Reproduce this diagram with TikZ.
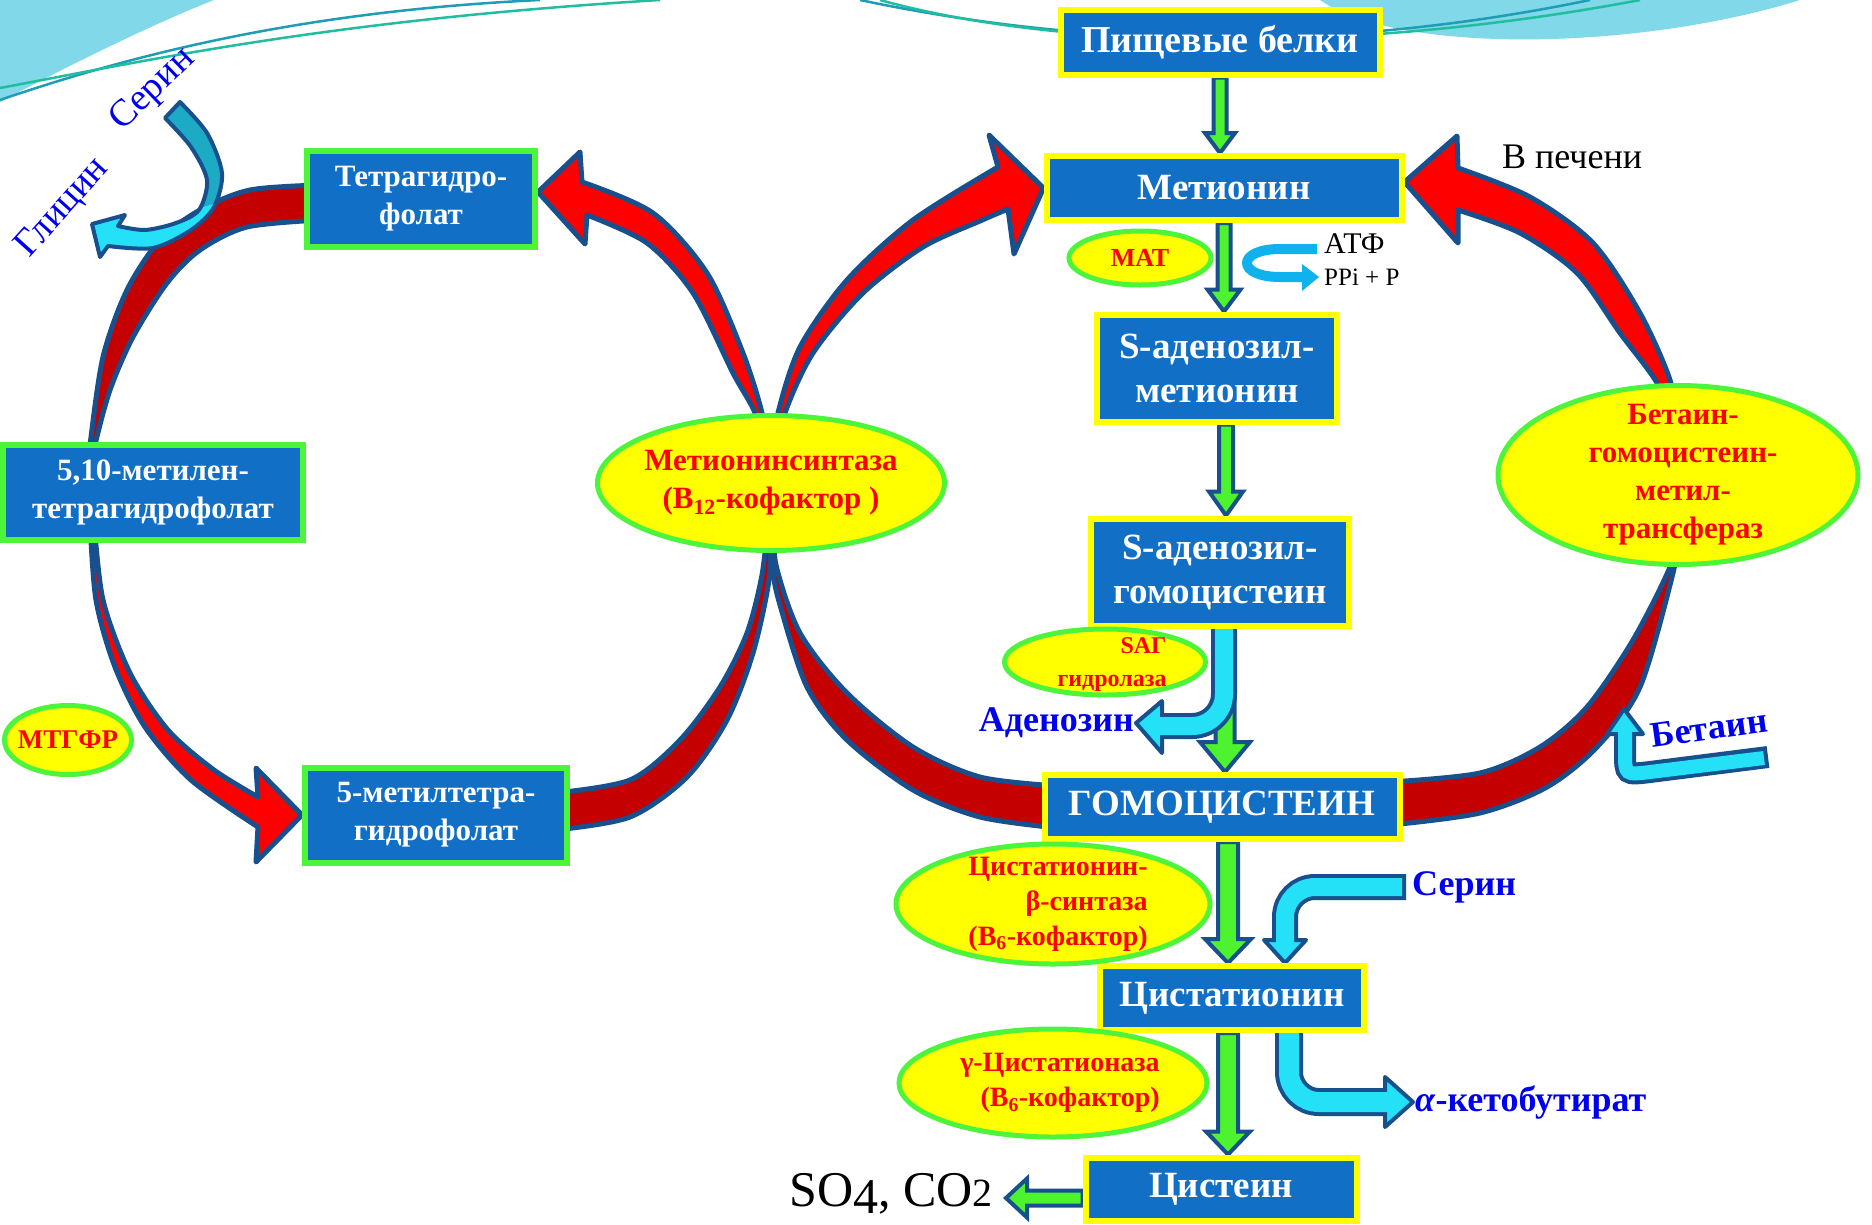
\documentclass[tikz,border=0pt]{standalone}
\usepackage{fontspec}
\setmainfont{Liberation Serif}
\usetikzlibrary{shapes.geometric,calc,backgrounds}

\definecolor{boxblue}{HTML}{1170C6}
\definecolor{frameyellow}{HTML}{FFFF00}
\definecolor{framegreen}{HTML}{4CF53A}
\definecolor{enzfill}{HTML}{FFFF00}
\definecolor{outlineblue}{HTML}{17508C}
\definecolor{brightred}{HTML}{FF0000}
\definecolor{darkred}{HTML}{C40000}
\definecolor{arrowgreen}{HTML}{4CF32E}
\definecolor{cyanlight}{HTML}{24E1F8}
\definecolor{cyandark}{HTML}{1DAAC4}
\definecolor{atpcyan}{HTML}{10B2EE}
\definecolor{labelblue}{HTML}{0000F0}
\definecolor{decorcyan}{HTML}{80D8E8}
\definecolor{decorteal}{HTML}{1F9CB6}
\definecolor{decorgreen}{HTML}{20BE9E}

\tikzset{
  box/.style={draw=frameyellow, line width=6pt, fill=boxblue, text=white, align=center,
    inner sep=0pt, font=\bfseries\fontsize{37}{44}\selectfont},
  folbox/.style={box, draw=framegreen, font=\bfseries\fontsize{31}{38}\selectfont},
  enzyme/.style={ellipse, draw=framegreen, line width=5pt, fill=enzfill, inner sep=0pt},
  enztext/.style={draw=none, fill=none, text=brightred, align=center, inner sep=0pt,
    font=\bfseries\fontsize{31}{38}\selectfont},
  bluelabel/.style={text=labelblue, inner sep=2pt, font=\bfseries\fontsize{36}{40}\selectfont},
  glylabel/.style={text=labelblue, inner sep=0pt, font=\fontsize{38}{40}\selectfont},
  redband/.style={draw=outlineblue, line width=5pt, line join=round},
  greenarrow/.style={draw=outlineblue, line width=4pt, fill=arrowgreen, line join=miter},
  cyanhead/.style={draw=outlineblue, line width=4pt, fill=cyanlight, line join=round},
}

% block arrow: start, end, shaft half width, head half width, head length
\newcommand\blockarrow[5]{%
  \path let \p1=($(#2)-(#1)$) in \pgfextra{%
    \pgfmathsetmacro\baang{atan2(\y1,\x1)}\global\let\baang\baang
    \pgfmathsetmacro\balen{veclen(\x1,\y1)}\global\let\balen\balen};
  \begin{scope}[shift={(#1)}, rotate=\baang, x=1pt, y=1pt]
    \filldraw[greenarrow] (0,#3) -- ({\balen-#5},#3) -- ({\balen-#5},#4) -- (\balen,0)
      -- ({\balen-#5},-#4) -- ({\balen-#5},-#3) -- (0,-#3) -- cycle;
  \end{scope}}

\begin{document}
\begin{tikzpicture}[x=1pt, y=-1pt]
\useasboundingbox (0,0) rectangle (1872,1224);

% main column
\node[box, minimum width=319pt, minimum height=65pt, font=\bfseries\fontsize{38}{44}\selectfont] (food) at (1220,42) {Пищевые белки};
\node[box, minimum width=355pt, minimum height=64pt] (met) at (1224,188) {Метионин};
\node[box, minimum width=240pt, minimum height=107pt] (sam) at (1217,368) {S-аденозил-\\метионин};
\node[box, minimum width=258pt, minimum height=107pt] (sah) at (1220,572) {S-аденозил-\\гомоцистеин};
\node[box, minimum width=355pt, minimum height=64pt] (hcy) at (1222,807) {ГОМОЦИСТЕИН};
\node[box, minimum width=264pt, minimum height=64pt] (cth) at (1232,998) {Цистатионин};
\node[box, minimum width=271pt, minimum height=63pt] (cys) at (1221,1189) {Цистеин};

% folate cycle
\node[folbox, minimum width=228pt, minimum height=96pt] (thf) at (421,199) {Тетрагидро-\\фолат};
\node[folbox, minimum width=300pt, minimum height=95pt] (mthf510) at (153,492) {5,10-метилен-\\тетрагидрофолат};
\node[folbox, minimum width=262pt, minimum height=95pt] (mthf5) at (436,815) {5-метилтетра-\\гидрофолат};

% enzymes
\node[enzyme, minimum width=347pt, minimum height=135pt,
  label={[enztext]center:{Метионинсинтаза\\(B\textsubscript{12}-кофактор )}}] (mtr) at (771,483) {};
\node[enzyme, minimum width=360pt, minimum height=179pt,
  label={[enztext, xshift=5pt]center:{Бетаин-\\гомоцистеин-\\метил-\\трансфераз}}] (bhmt) at (1678,475) {};
\node[enzyme, minimum width=142pt, minimum height=54pt,
  label={[enztext, font=\bfseries\fontsize{26}{30}\selectfont]center:{МАТ}}] (mat) at (1140,258) {};
\node[enzyme, minimum width=127pt, minimum height=69pt,
  label={[enztext, font=\bfseries\fontsize{27}{30}\selectfont]center:{МТГФР}}] (mthfr) at (68,740) {};
\node[enzyme, minimum width=201pt, minimum height=66pt,
  label={[enztext, align=right, xshift=7pt, yshift=-3pt, font=\bfseries\fontsize{24}{33}\selectfont]center:{SAГ\\гидролаза}}] (sahh) at (1105,662) {};
\node[enzyme, minimum width=314pt, minimum height=120pt,
  label={[enztext, align=right, xshift=5pt, font=\bfseries\fontsize{28}{35}\selectfont]center:{Цистатионин-\\β-синтаза\\(B\textsubscript{6}-кофактор)}}] (cbs) at (1053,904) {};
\node[enzyme, minimum width=308pt, minimum height=108pt,
  label={[enztext, align=right, xshift=7pt, font=\bfseries\fontsize{28}{35}\selectfont]center:{γ-Цистатионаза\\(B\textsubscript{6}-кофактор)}}] (cgl) at (1053,1083) {};

% labels
\node[bluelabel, anchor=east] (adenosine) at (1136,723) {Аденозин};
\node[bluelabel, anchor=west] (serinR) at (1410,887) {Серин};
\node[bluelabel, anchor=west] (ketob) at (1413,1102) {\textit{α}-кетобутират};
\node[bluelabel, rotate=8] (betaine) at (1709,728) {Бетаин};
\node[font=\fontsize{36}{40}\selectfont] (liver) at (1572,157) {В печени};
\node[font=\fontsize{30}{34}\selectfont, anchor=west, inner sep=0pt] (atp) at (1324,244) {АТФ};
\node[font=\fontsize{25}{30}\selectfont, anchor=west, inner sep=0pt] (ppi) at (1324,277) {PPi + P};
\node[font=\fontsize{50}{54}\selectfont, anchor=east, inner sep=0pt] (so4) at (993,1194)
  {SO\raisebox{-7pt}{4}, CO{\fontsize{40}{40}\selectfont 2}};
\node[glylabel, rotate=44] (serinL) at (153,90) {Серин};
\node[glylabel, rotate=48] (glycine) at (63,208) {Глицин};

\coordinate (samout) at ([xshift=9pt]sam.south);
\coordinate (sahout) at ([xshift=5pt]sah.south);
\coordinate (hcyout) at ([xshift=6pt]hcy.south);
\coordinate (cthout) at ([xshift=-4pt]cth.south);
\coordinate (so4tip) at (1006,1198);
\coordinate (cysout) at (cys.west |- so4tip);

\begin{scope}[on background layer]
\fill[white] (0,0) rectangle (1872,1224);
% theme swooshes
\fill[decorcyan] (0,0) -- (214,0) .. controls (150,25) and (60,70) .. (0,102) -- cycle;
\draw[decorteal, line width=2.5pt] (0,100) .. controls (160,45) and (330,10) .. (540,0);
\draw[decorgreen, line width=2.5pt] (0,88) .. controls (150,60) and (330,20) .. (660,0);
\fill[decorcyan] (1320,0) .. controls (1400,55) and (1640,50) .. (1800,0) -- cycle;
\draw[decorteal, line width=2.5pt] (860,0) .. controls (1050,40) and (1300,60) .. (1590,0);
\draw[decorgreen, line width=2.5pt] (880,0) .. controls (1060,50) and (1350,55) .. (1640,0);

% left loop
\filldraw[redband, fill=darkred] plot[smooth] coordinates {(320,185) (250,190) (200,210) (160,240) (127,290) (103,357) (90,445) (88,470)}
  -- plot[smooth] coordinates {(92,470) (95,445) (110,390) (133,337) (167,283) (200,250) (247,227) (320,220)} -- cycle;
\filldraw[redband, fill=brightred] plot[smooth] coordinates {(90,520) (96,600) (115,667) (145,727) (191,780) (258,827)}
  -- (256,862) -- (mthf5.west) -- (256,768)
  -- plot[smooth] coordinates {(258,797) (214,770) (168,730) (130,673) (103,600) (94,520)} -- cycle;
\filldraw[redband, fill=darkred] plot[smooth] coordinates {(555,793) (630,780) (680,740) (720,687) (747,633) (762,575) (768,520)}
  -- plot[smooth] coordinates {(772,520) (769,580) (753,653) (727,720) (687,777) (630,817) (555,830)} -- cycle;
\filldraw[redband, fill=brightred] plot[smooth] coordinates {(765,445) (762,413) (743,353) (707,273) (653,213) (582,182)}
  -- (580,152) -- ([yshift=7pt]thf.east) -- (585,244)
  -- plot[smooth] coordinates {(587,215) (647,243) (693,293) (733,373) (755,413) (759,445)} -- cycle;

% right loop
\filldraw[redband, fill=darkred] plot[smooth] coordinates {(1058,786) (980,777) (913,747) (847,693) (800,633) (776,565) (774,520)}
  -- plot[smooth] coordinates {(769,520) (771,562) (780,605) (807,687) (847,740) (913,790) (980,817) (1058,828)} -- cycle;
\filldraw[redband, fill=brightred] plot[smooth] coordinates {(776,445) (778,413) (800,347) (847,280) (913,220) (998,167)}
  -- (989,135) -- (met.west) -- (1014,254)
  -- plot[smooth] coordinates {(1008,209) (980,221) (923,247) (863,293) (813,353) (785,413) (783,445)} -- cycle;
\filldraw[redband, fill=darkred] plot[smooth] coordinates {(1390,825) (1480,813) (1547,787) (1597,747) (1640,687) (1673,573) (1677,540)}
  -- plot[smooth] coordinates {(1673,540) (1670,567) (1633,640) (1587,707) (1540,747) (1480,773) (1390,782)} -- cycle;
\filldraw[redband, fill=brightred] plot[smooth] coordinates {(1673,415) (1670,380) (1640,313) (1593,243) (1530,197) (1458,168)}
  -- (1457,136) -- ([yshift=6pt]met.east) -- (1458,243)
  -- plot[smooth] coordinates {(1458,210) (1520,233) (1577,273) (1620,333) (1657,383) (1664,415)} -- cycle;

% green steps
\blockarrow{food.south}{food.south |- met.north}{6.5}{15}{20}
\blockarrow{met.south}{met.south |- sam.north}{6.5}{16.5}{22}
\blockarrow{samout}{samout |- sah.north}{7}{17}{24}
\blockarrow{sahout}{sahout |- hcy.north}{9.5}{25}{30}
\blockarrow{hcyout}{hcyout |- cth.north}{10}{23}{24}
\blockarrow{cthout}{cthout |- cys.north}{10}{22}{23}
\blockarrow{cysout}{so4tip}{7.5}{19.5}{21}

% serine -> glycine
\path[save path=\glypath] plot[smooth] coordinates {(180,102) (207,133) (222,173) (214,207) (191,230) (153,248) (108,246)}
  -- (100,257) -- (92,224) -- (125,215) -- (118,226)
  -- plot[smooth] coordinates {(118,226) (145,230) (176,223) (199,210) (207,180) (191,147) (165,118)} -- cycle;
\fill[cyanlight, use path=\glypath];
\fill[cyandark] plot[smooth] coordinates {(180,102) (207,133) (222,173) (216,203)}
  -- plot[smooth] coordinates {(200,208) (207,180) (191,147) (165,118)} -- cycle;
\draw[redband, line width=4pt, use path=\glypath];

% adenosine
\coordinate (adenbase) at (1162,726);
\draw[outlineblue, line width=26pt, rounded corners=32pt] ([xshift=4pt]sah.center) |- (adenbase);
\filldraw[cyanhead] (1162,701) -- (adenosine.east) -- (1162,753) -- cycle;
\draw[cyanlight, line width=18pt, rounded corners=32pt] ([xshift=4pt]sah.center) |- ([xshift=-6pt]adenbase);

% serine
\coordinate (serbase) at (1285,940);
\draw[outlineblue, line width=26pt, rounded corners=30pt] ([xshift=-4pt]serinR.west) -| (serbase);
\filldraw[cyanhead] (1264,940) -- (1285,963) -- (1306,940) -- cycle;
\draw[cyanlight, line width=18pt, rounded corners=30pt] ([xshift=-8pt]serinR.west) -| ([yshift=-6pt]serbase);

% alpha-ketobutyrate
\coordinate (ketbase) at (1385,1102);
\draw[outlineblue, line width=28pt, rounded corners=30pt] ([xshift=57pt]cth.center) |- (ketbase);
\filldraw[cyanhead] (1385,1077) -- (ketob.west) -- (1385,1127) -- cycle;
\draw[cyanlight, line width=20pt, rounded corners=30pt] ([xshift=57pt]cth.center) |- ([xshift=6pt]ketbase);

% betaine
\coordinate (betstart) at (1768,757);
\coordinate (betbase) at (1625,734);
\draw[outlineblue, line width=22pt] (betstart) -- (1650,772) .. controls (1625,775) .. (1625,752) -- (betbase);
\filldraw[cyanhead] (1607,734) -- (1624,709) -- (1643,734) -- cycle;
\draw[cyanlight, line width=14pt] (1764,758) -- (1650,772) .. controls (1625,775) .. (1625,752) -- (1625,728);

% ATP
\coordinate (atpbase) at (1303,277);
\draw[atpcyan, line width=10pt] ([shift={(-7pt,-5pt)}]atp.west) -- (1280,249) .. controls (1236,249) and (1236,277) .. (1280,277) -- (atpbase);
\fill[atpcyan] (1302,264) -- (1319,277) -- (1302,291) -- cycle;
\end{scope}
\end{tikzpicture}
\end{document}
